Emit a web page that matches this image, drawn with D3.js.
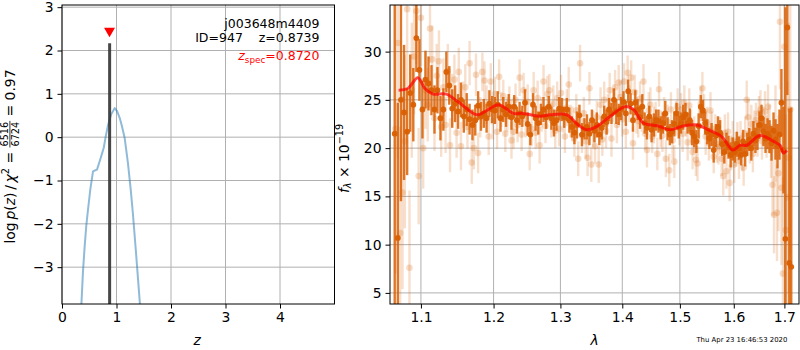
<!DOCTYPE html>
<html>
<head>
<meta charset="utf-8">
<script src="https://cdn.jsdelivr.net/npm/d3@7"></script>
<style>
  html, body { margin: 0; padding: 0; background: #fff; }
  svg { display: block; font-family: "DejaVu Sans", sans-serif; }
</style>
</head>
<body>
<svg id="chart" width="800" height="350"></svg>
<script>
// ---------- redshift probability panel ----------
const pzZ   = [0.33, 0.356, 0.385, 0.416, 0.445, 0.477, 0.52, 0.569, 0.60, 0.642, 0.70, 0.765, 0.80, 0.845, 0.90, 0.967, 1.01, 1.06, 1.10, 1.15, 1.21, 1.26, 1.30, 1.36, 1.43, 1.46];
const pzLog = [-4.6, -3.85, -3.1, -2.52, -2.05, -1.675, -1.2, -0.79, -0.77, -0.75, -0.52, -0.25, 0.0, 0.28, 0.52, 0.67, 0.60, 0.44, 0.25, -0.02, -0.6, -1.2, -1.75, -2.7, -3.85, -4.3];
const zBest = 0.8739, zBestTop = 2.17;
const zSpec = 0.8720, zSpecMark = 2.45;
const pzTicksX = [0, 1, 2, 3, 4];
const pzTicksY = [-3, -2, -1, 0, 1, 2, 3];

// ---------- spectrum panel ----------
const darkStart = 1.066, darkStep = 0.004;   // binned spectrum sampling (micron)
const darkFlux = [
  21.5, 10.7, 25.0, 23.7, 21.7, 25.7, 24.5, 31.4, 28.1, 24.0,
  27.1, 26.7, 26.0, 24.0, 26.0, 23.1, 24.0, 27.9, 26.5, 24.1,
  24.6, 23.8, 25.0, 23.3, 24.0, 23.0, 22.4, 22.9, 24.4, 23.3,
  23.6, 23.1, 24.6, 24.0, 23.9, 24.5, 23.1, 24.0, 23.5, 24.3,
  23.2, 24.3, 22.9, 23.6, 23.3, 24.7, 22.5, 21.4, 24.5, 23.1,
  22.6, 23.5, 24.0, 23.2, 24.3, 23.1, 22.6, 22.9, 24.1, 24.0,
  23.2, 24.0, 22.9, 22.2, 21.6, 22.4, 23.4, 21.4, 22.0, 22.2,
  21.5, 22.9, 21.8, 22.4, 21.4, 22.1, 23.3, 22.7, 24.0, 23.6,
  25.0, 23.8, 23.5, 24.1, 24.8, 23.6, 25.9, 24.6, 22.9, 24.7,
  24.0, 23.2, 24.3, 22.6, 22.1, 23.3, 21.9, 22.4, 22.9, 22.8,
  22.1, 22.6, 23.6, 22.0, 21.4, 21.7, 22.5, 23.6, 22.2, 22.6,
  23.2, 23.5, 22.6, 22.9, 21.6, 21.2, 20.7, 22.3, 24.3, 23.9,
  22.6, 21.7, 21.0, 21.4, 19.8, 21.3, 22.2, 21.6, 20.4, 19.6,
  20.5, 20.1, 19.3, 19.9, 19.6, 20.4, 20.0, 19.3, 20.7, 19.4,
  20.4, 20.9, 20.0, 21.5, 20.8, 21.2, 22.4, 23.1, 21.7, 21.0,
  21.5, 21.2, 20.5, 21.8, 20.9, 20.2, 21.4, 24.7, 19.8, 10.6,
  32.5, 8.1, 7.7
];
const darkErr = [
  20, 14, 10.5, 7, 4.5, 4.0, 3.8, 3.5, 3.2, 3.0,
  3.0, 2.8, 2.6, 2.5, 2.4, 2.3, 2.2, 2.1, 2.0, 2.0,
  1.9, 1.8, 1.8, 1.7, 1.7, 1.6, 1.6, 1.6, 1.5, 1.5,
  1.5, 1.5, 1.4, 1.4, 1.4, 1.4, 1.4, 1.3, 1.3, 1.3,
  1.3, 1.2, 1.4, 1.2, 1.1, 1.4, 1.2, 1.1, 1.2, 1.3,
  1.2, 1.1, 1.3, 1.2, 1.1, 1.2, 1.4, 1.1, 1.2, 1.2,
  1.1, 1.2, 1.3, 1.1, 1.2, 1.4, 1.1, 1.2, 1.1, 1.3,
  1.2, 1.1, 1.2, 1.3, 1.1, 1.2, 1.1, 1.3, 1.2, 1.1,
  1.2, 1.3, 1.1, 1.2, 1.1, 1.3, 1.2, 1.1, 1.2, 1.3,
  1.1, 1.2, 1.3, 1.1, 1.2, 1.1, 1.3, 1.2, 1.1, 1.2,
  1.2, 1.1, 1.3, 1.2, 1.1, 1.2, 1.3, 1.1, 1.2, 1.1,
  1.3, 1.2, 1.1, 1.2, 1.3, 1.1, 1.2, 1.3, 1.2, 1.1,
  1.2, 1.3, 1.1, 1.2, 1.3, 1.2, 1.1, 1.3, 1.2, 1.2,
  1.1, 1.2, 1.3, 1.2, 1.1, 1.3, 1.2, 1.1, 1.2, 1.3,
  1.2, 1.2, 1.3, 1.3, 1.3, 1.4, 1.4, 1.4, 1.5, 1.5,
  1.6, 1.7, 1.8, 1.9, 2.1, 2.3, 2.6, 3.5, 4.5, 24,
  7, 16, 16.5
];

const lightStart = 1.067, lightStep = 0.003; // full-resolution sampling (micron)
const lightFlux = [
  22.0, 30.9, 11.2, 15.4, 20.7, 34.4, 7.6, 26.0, 29.5, 34.2, 17.1, 33.5,
  20.0, 26.0, 24.5, 32.4, 29.2, 23.1, 27.5, 29.0, 22.2, 26.3, 22.4, 28.0,
  20.3, 25.0, 27.1, 21.6, 27.9, 20.2, 24.5, 26.3, 22.2, 28.8, 18.5, 20.0,
  27.6, 19.5, 23.2, 27.9, 27.0, 24.5, 21.2, 26.9, 22.8, 25.6, 21.7, 27.4,
  24.0, 25.4, 21.5, 23.5, 24.7, 20.8, 21.7, 25.0, 22.4, 27.3, 21.4, 26.0,
  23.0, 24.8, 19.4, 22.0, 26.0, 21.6, 25.2, 20.3, 23.5, 26.9, 22.3, 25.6,
  26.0, 22.9, 24.6, 21.8, 25.2, 22.0, 25.7, 23.4, 21.2, 24.2, 26.6, 22.8,
  22.5, 21.0, 23.9, 18.9, 28.8, 21.3, 23.6, 20.7, 19.0, 26.2, 18.3, 22.0,
  20.2, 23.2, 18.3, 24.5, 20.9, 25.0, 21.8, 23.9, 26.0, 21.0, 24.4, 26.3,
  22.4, 26.8, 25.3, 23.0, 26.9, 21.7, 27.8, 24.6, 27.3, 20.5, 25.8, 23.4,
  22.8, 25.1, 23.6, 26.9, 21.5, 19.8, 23.9, 24.5, 21.2, 22.4, 23.0, 19.4,
  26.1, 22.0, 21.3, 23.5, 18.9, 22.7, 17.7, 24.0, 20.8, 18.6, 23.1, 24.3,
  22.1, 24.0, 21.5, 24.7, 22.9, 20.6, 24.4, 22.3, 19.6, 21.4, 18.8, 18.4,
  22.3, 24.6, 26.2, 23.8, 21.2, 22.6, 20.5, 23.9, 22.0, 19.1, 21.7, 20.4,
  20.1, 21.3, 18.9, 17.1, 21.6, 17.6, 21.7, 16.4, 19.5, 20.8, 18.3, 19.9,
  20.7, 18.7, 21.0, 19.6, 18.0, 21.5, 25.0, 23.2, 20.2, 22.5, 19.4, 21.9,
  22.9, 21.0, 23.6, 24.0, 20.7, 22.3, 23.8, 21.2, 24.3, 22.0, 19.7, 16.2,
  13.1, 21.5, 13.3, 17.4, 33.1, 15.9, 7.0, 30.5, 11.5, 14.9, 19.0, 24.0
];
const lightErr = [
  15, 12, 11, 10, 9, 8, 8, 7, 6, 5.5, 5, 5,
  4.2, 4.0, 3.8, 3.6, 3.5, 3.4, 3.3, 3.2, 3.1, 3.0, 2.9, 2.8,
  2.8, 2.7, 2.6, 2.6, 2.5, 2.5, 2.4, 2.4, 2.3, 2.3, 2.2, 2.2,
  2.2, 2.1, 2.1, 2.0, 2.0, 2.0, 1.9, 1.9, 1.9, 1.8, 1.8, 1.8,
  1.8, 1.7, 1.9, 1.8, 1.7, 1.9, 1.8, 1.7, 1.8, 1.9, 1.7, 1.8,
  1.9, 1.8, 1.7, 1.8, 1.9, 1.7, 1.8, 1.9, 1.8, 1.7, 1.8, 1.9,
  1.7, 1.8, 1.9, 1.8, 1.7, 1.8, 1.9, 1.8, 1.7, 1.9, 1.8, 1.7,
  1.8, 1.9, 1.7, 1.8, 1.9, 1.8, 1.7, 1.8, 1.9, 1.7, 1.8, 1.9,
  1.8, 1.7, 1.9, 1.8, 1.7, 1.9, 1.8, 1.7, 1.8, 1.9, 1.7, 1.8,
  1.9, 1.8, 1.7, 1.8, 1.9, 1.7, 1.8, 1.9, 1.8, 1.7, 1.8, 1.9,
  1.7, 1.8, 1.9, 1.8, 1.7, 1.8, 1.9, 1.8, 1.7, 1.9, 1.8, 1.7,
  1.8, 1.9, 1.7, 1.8, 1.9, 1.8, 1.7, 1.8, 1.9, 1.7, 1.8, 1.9,
  1.8, 1.7, 1.9, 1.8, 1.7, 1.9, 1.8, 1.7, 1.8, 1.9, 1.7, 1.8,
  1.9, 1.8, 1.7, 1.8, 1.9, 1.7, 1.8, 1.9, 1.8, 1.7, 1.8, 1.9,
  1.8, 1.9, 1.8, 2.0, 1.9, 1.8, 2.0, 1.9, 1.8, 2.0, 1.9, 1.8,
  2.0, 1.9, 1.8, 2.0, 1.9, 1.8, 2.0, 1.9, 1.8, 2.0, 1.9, 2.0,
  1.8, 1.9, 1.8, 2.0, 1.9, 2.0, 2.1, 2.2, 2.3, 2.5, 2.8, 3.2,
  4, 5, 5, 6, 7, 8, 10, 10, 12, 12, 14, 15
];

const modelLam  = [1.071, 1.083, 1.096, 1.105, 1.116, 1.134, 1.150, 1.176, 1.188, 1.207, 1.229, 1.243, 1.269, 1.284, 1.310, 1.328, 1.342, 1.358, 1.380, 1.405, 1.419, 1.436, 1.462, 1.482, 1.506, 1.531, 1.552, 1.577, 1.598, 1.612, 1.625, 1.651, 1.678, 1.691, 1.698, 1.705];
const modelFlux = [26.0, 26.2, 27.3, 26.2, 25.6, 25.6, 24.8, 23.45, 23.8, 24.5, 23.6, 23.6, 23.3, 23.45, 23.45, 22.4, 21.9, 22.25, 23.3, 24.3, 24.0, 22.6, 22.3, 21.9, 22.3, 22.4, 21.9, 21.2, 19.8, 20.3, 20.3, 21.3, 20.7, 20.3, 19.5, 19.75];

const specTicksX = [1.1, 1.2, 1.3, 1.4, 1.5, 1.6, 1.7];
const specTicksY = [5, 10, 15, 20, 25, 30];

const objName = "j003648m4409";
const objId = 947;
const stamp = "Thu Apr 23 16:46:53 2020";

// ---------- layout ----------
const svg = d3.select("#chart");
const FONT_TICK = 13.9, FONT_LABEL = 13.9, FONT_NOTE = 12.5;
const GRID = "#b0b0b0";
const ORANGE = "#d95f02";

const PL = {x0: 62, x1: 334.5, y0: 5, y1: 304};
const PR = {x0: 390, x1: 799, y0: 5, y1: 304};

const xL = d3.scaleLinear().domain([0, 5]).range([PL.x0, PL.x1]);
const yL = d3.scaleLinear().domain([-3.85, 3.05]).range([PL.y1, PL.y0]);
const xR = d3.scaleLog().domain([1.06, 1.73]).range([PR.x0, PR.x1]);
const yR = d3.scaleLinear().domain([3.85, 34.83]).range([PR.y1, PR.y0]);

const defs = svg.append("defs");
function clip(id, p) {
  defs.append("clipPath").attr("id", id).append("rect")
    .attr("x", p.x0).attr("y", p.y0).attr("width", p.x1 - p.x0).attr("height", p.y1 - p.y0);
  return `url(#${id})`;
}

function grid(g, p, xs, ys, xt, yt) {
  g.append("g").selectAll("line").data(xt).join("line")
    .attr("x1", d => xs(d)).attr("x2", d => xs(d)).attr("y1", p.y0).attr("y2", p.y1)
    .attr("stroke", GRID).attr("stroke-width", 1);
  g.append("g").selectAll("line").data(yt).join("line")
    .attr("y1", d => ys(d)).attr("y2", d => ys(d)).attr("x1", p.x0).attr("x2", p.x1)
    .attr("stroke", GRID).attr("stroke-width", 1);
}

function axes(g, p, xs, ys, xt, yt, fx, fy) {
  const ax = d3.axisBottom(xs).tickValues(xt).tickFormat(fx).tickSize(4.5).tickPadding(4);
  const gx = g.append("g").attr("transform", `translate(0,${p.y1})`).call(ax);
  const ay = d3.axisLeft(ys).tickValues(yt).tickFormat(fy).tickSize(4.5).tickPadding(4);
  const gy = g.append("g").attr("transform", `translate(${p.x0},0)`).call(ay);
  [gx, gy].forEach(a => {
    a.select(".domain").remove();
    a.selectAll("line").attr("stroke", "#000").attr("stroke-width", 1);
    a.selectAll("text").attr("fill", "#000").attr("font-size", FONT_TICK)
      .attr("font-family", "DejaVu Sans, sans-serif");
  });
  g.append("rect").attr("x", p.x0).attr("y", p.y0)
    .attr("width", p.x1 - p.x0).attr("height", p.y1 - p.y0)
    .attr("fill", "none").attr("stroke", "#000").attr("stroke-width", 1);
}

const minus = d => (d < 0 ? "\u2212" + Math.abs(d) : String(d));

// ---------- left panel ----------
const gL = svg.append("g");
grid(gL, PL, xL, yL, pzTicksX, pzTicksY);
const dL = gL.append("g").attr("clip-path", clip("clipL", PL));
dL.append("path")
  .datum(pzZ.map((z, i) => [z, pzLog[i]]))
  .attr("d", d3.line().x(d => xL(d[0])).y(d => yL(d[1])))
  .attr("fill", "none").attr("stroke", "#1f77b4").attr("stroke-opacity", 0.5)
  .attr("stroke-width", 2).attr("stroke-linejoin", "round");
dL.append("line")
  .attr("x1", xL(zBest)).attr("x2", xL(zBest))
  .attr("y1", yL(-3.85) + 2).attr("y2", yL(zBestTop))
  .attr("stroke", "#333").attr("stroke-opacity", 0.9).attr("stroke-width", 3);
dL.append("path")
  .attr("d", d3.symbol(d3.symbolTriangle, 52)())
  .attr("transform", `translate(${xL(zSpec)},${yL(zSpecMark)}) rotate(180)`)
  .attr("fill", "red");
axes(gL, PL, xL, yL, pzTicksX, pzTicksY, d => String(d), minus);

const noteX = 319.5;
gL.append("text").attr("x", noteX).attr("y", 27.8).attr("text-anchor", "end")
  .attr("font-size", FONT_NOTE).text(objName);
gL.append("text").attr("x", noteX).attr("y", 42).attr("text-anchor", "end")
  .attr("font-size", FONT_NOTE).style("white-space", "pre")
  .text(`ID=${objId}    z=${zBest.toFixed(4)}`);
const zs = gL.append("text").attr("x", noteX).attr("y", 60).attr("text-anchor", "end")
  .attr("font-size", FONT_NOTE).attr("fill", "red");
zs.append("tspan").attr("font-style", "italic").text("z");
zs.append("tspan").attr("font-size", 8.8).attr("dy", 2.5).text("spec");
zs.append("tspan").attr("dy", -2.5).text("=" + zSpec.toFixed(4));

gL.append("text").attr("x", xL(2.5) - 1).attr("y", 345).attr("text-anchor", "middle")
  .attr("font-size", FONT_LABEL).attr("font-style", "italic").text("z");

// rotated y label with a stacked fraction
(function () {
  const g = gL.append("g");
  const t = g.append("text").attr("font-size", FONT_LABEL).style("white-space", "pre");
  t.append("tspan").text("log\u2009");
  t.append("tspan").attr("font-style", "italic").text("p");
  t.append("tspan").text("(");
  t.append("tspan").attr("font-style", "italic").text("z");
  t.append("tspan").text(")\u2009/\u2009");
  t.append("tspan").attr("font-style", "italic").text("\u03c7");
  t.append("tspan").attr("font-size", 9.7).attr("dy", -5.5).text("2");
  t.append("tspan").attr("dy", 5.5).text(" = ");
  const w1 = t.node().getComputedTextLength();
  const fs = 9.7;
  const num = g.append("text").attr("font-size", fs).attr("text-anchor", "middle").text("6516");
  const fw = num.node().getComputedTextLength() + 2;
  const fc = w1 + fw / 2;
  num.attr("x", fc).attr("y", -6.2);
  g.append("text").attr("font-size", fs).attr("text-anchor", "middle")
    .attr("x", fc).attr("y", 4.4).text("6724");
  g.append("line").attr("x1", w1).attr("x2", w1 + fw)
    .attr("y1", -4.6).attr("y2", -4.6).attr("stroke", "#000").attr("stroke-width", 0.8);
  const t2 = g.append("text").attr("font-size", FONT_LABEL).attr("x", w1 + fw)
    .style("white-space", "pre").text(" = 0.97");
  const total = w1 + fw + t2.node().getComputedTextLength();
  g.attr("transform", `translate(14.5,${(PL.y0 + PL.y1) / 2 + 2}) rotate(-90) translate(${-total / 2},0)`);
})();

// ---------- right panel ----------
const gR = svg.append("g");
grid(gR, PR, xR, yR, specTicksX, specTicksY);
const dR = gR.append("g").attr("clip-path", clip("clipR", PR));

function errSeries(g, start, step, flux, err, barOp, barW, dotOp, r) {
  const pts = flux.map((f, i) => ({l: start + i * step, f, e: err[i]}));
  g.append("g").selectAll("line").data(pts).join("line")
    .attr("x1", d => xR(d.l)).attr("x2", d => xR(d.l))
    .attr("y1", d => yR(d.f - d.e)).attr("y2", d => yR(d.f + d.e))
    .attr("stroke", ORANGE).attr("stroke-opacity", barOp).attr("stroke-width", barW);
  g.append("g").selectAll("circle").data(pts).join("circle")
    .attr("cx", d => xR(d.l)).attr("cy", d => yR(d.f)).attr("r", r)
    .attr("fill", ORANGE).attr("fill-opacity", dotOp);
}
errSeries(dR, lightStart, lightStep, lightFlux, lightErr, 0.2, 2.4, 0.22, 3.3);
errSeries(dR, darkStart, darkStep, darkFlux, darkErr, 0.85, 2.4, 0.95, 2.9);

dR.append("path")
  .datum(modelLam.map((l, i) => [l, modelFlux[i]]))
  .attr("d", d3.line().x(d => xR(d[0])).y(d => yR(d[1])).curve(d3.curveCatmullRom.alpha(0.5)))
  .attr("fill", "none").attr("stroke", "red").attr("stroke-opacity", 0.7)
  .attr("stroke-width", 3).attr("stroke-linejoin", "round");

axes(gR, PR, xR, yR, specTicksX, specTicksY, d3.format(".1f"), d => String(d));

gR.append("text").attr("x", (PR.x0 + PR.x1) / 2).attr("y", 345).attr("text-anchor", "middle")
  .attr("font-size", FONT_LABEL).attr("font-style", "italic").text("\u03bb");

(function () {
  const g = gR.append("g");
  const t = g.append("text").attr("font-size", FONT_LABEL);
  t.append("tspan").attr("font-style", "italic").text("f");
  t.append("tspan").attr("font-style", "italic").attr("font-size", 9.7).attr("dy", 2.8).text("\u03bb");
  t.append("tspan").attr("dy", -2.8).style("white-space", "pre").text(" \u00d7 10");
  t.append("tspan").attr("font-size", 9.7).attr("dy", -5.5).text("\u221219");
  const w = t.node().getComputedTextLength();
  g.attr("transform", `translate(348.5,${(PR.y0 + PR.y1) / 2 + 4}) rotate(-90) translate(${-w / 2},0)`);
})();

svg.append("text").attr("x", 787.3).attr("y", 342).attr("text-anchor", "end")
  .attr("font-size", 6.9).text(stamp);
</script>
</body>
</html>
